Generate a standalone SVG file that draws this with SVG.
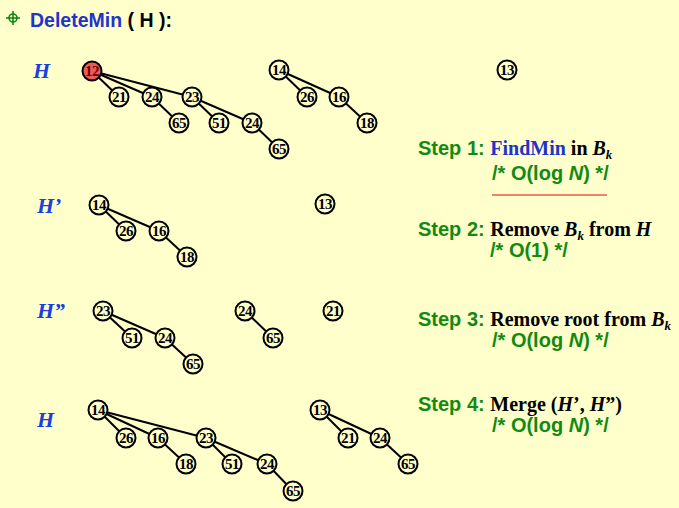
<svg xmlns="http://www.w3.org/2000/svg" width="679" height="508" viewBox="0 0 679 508">
<style>
.bg{fill:#FFFFCC}
.n circle{fill:#FFFFCC;stroke:#000;stroke-width:2}
.n text{font-family:"Liberation Serif",serif;font-weight:bold;font-size:15px;text-anchor:middle;fill:#000;letter-spacing:-0.5px}
.n.red circle{fill:#EE5A5A}
.n.red text{fill:#6A0000}
.e line{stroke:#000;stroke-width:2}
.lbl{font-family:"Liberation Serif",serif;font-weight:bold;font-style:italic;font-size:22px;fill:#1A3FE0}
.step{font-family:"Liberation Sans",Arial,sans-serif;font-weight:bold;font-size:20px;fill:#128A12}
.tm{font-family:"Liberation Serif",serif;font-weight:bold;font-size:20px;fill:#000}
.blue{fill:#2233CC}
.it{font-style:italic}
.sub{font-size:13px;font-style:italic}
</style>
<rect class="bg" x="0" y="0" width="679" height="508"/>
<g id="title">
<g stroke="#118811" stroke-width="1.6" fill="none">
<circle cx="13" cy="18" r="4"/>
<line x1="13" y1="11" x2="13" y2="25"/>
<line x1="6" y1="18" x2="20" y2="18"/>
</g>
<text x="30" y="27" font-family="Liberation Sans,Arial,sans-serif" font-weight="bold" font-size="19.5px"><tspan fill="#2233CC">DeleteMin</tspan><tspan fill="#000"> ( H ):</tspan></text>
</g>
<g id="labels">
<text class="lbl" x="33" y="78">H</text>
<text class="lbl" x="37" y="213">H’</text>
<text class="lbl" x="37" y="318">H”</text>
<text class="lbl" x="37" y="427">H</text>
</g>
<g id="connectors" class="e">
<line x1="92" y1="71" x2="119" y2="97"/>
<line x1="92" y1="71" x2="152" y2="97"/>
<line x1="92" y1="71" x2="192" y2="97"/>
<line x1="152" y1="97" x2="179" y2="123"/>
<line x1="192" y1="97" x2="219" y2="123"/>
<line x1="192" y1="97" x2="252" y2="123"/>
<line x1="252" y1="123" x2="279" y2="149"/>
<line x1="279" y1="70" x2="307" y2="97"/>
<line x1="279" y1="70" x2="339" y2="97"/>
<line x1="339" y1="97" x2="367" y2="123"/>
<line x1="99" y1="205" x2="126" y2="231"/>
<line x1="99" y1="205" x2="159" y2="231"/>
<line x1="159" y1="231" x2="187" y2="257"/>
<line x1="103" y1="311" x2="132" y2="338"/>
<line x1="103" y1="311" x2="165" y2="338"/>
<line x1="165" y1="338" x2="193" y2="364"/>
<line x1="245" y1="311" x2="273" y2="338"/>
<line x1="98" y1="410" x2="126" y2="438"/>
<line x1="98" y1="410" x2="158" y2="438"/>
<line x1="98" y1="410" x2="206" y2="438"/>
<line x1="158" y1="438" x2="186" y2="464"/>
<line x1="206" y1="438" x2="232" y2="464"/>
<line x1="206" y1="438" x2="267" y2="464"/>
<line x1="267" y1="464" x2="293" y2="491"/>
<line x1="320" y1="410" x2="348" y2="438"/>
<line x1="320" y1="410" x2="380" y2="438"/>
<line x1="380" y1="438" x2="408" y2="464"/>
</g>
<g id="n-h-12" class="n red"><circle cx="92" cy="71" r="9.5"/><text x="92" y="76">12</text></g>
<g id="n-h-21" class="n"><circle cx="119" cy="97" r="9.5"/><text x="119" y="102">21</text></g>
<g id="n-h-24a" class="n"><circle cx="152" cy="97" r="9.5"/><text x="152" y="102">24</text></g>
<g id="n-h-23" class="n"><circle cx="192" cy="97" r="9.5"/><text x="192" y="102">23</text></g>
<g id="n-h-65a" class="n"><circle cx="179" cy="123" r="9.5"/><text x="179" y="128">65</text></g>
<g id="n-h-51" class="n"><circle cx="219" cy="123" r="9.5"/><text x="219" y="128">51</text></g>
<g id="n-h-24b" class="n"><circle cx="252" cy="123" r="9.5"/><text x="252" y="128">24</text></g>
<g id="n-h-65b" class="n"><circle cx="279" cy="149" r="9.5"/><text x="279" y="154">65</text></g>
<g id="n-h-14" class="n"><circle cx="279" cy="70" r="9.5"/><text x="279" y="75">14</text></g>
<g id="n-h-26" class="n"><circle cx="307" cy="97" r="9.5"/><text x="307" y="102">26</text></g>
<g id="n-h-16" class="n"><circle cx="339" cy="97" r="9.5"/><text x="339" y="102">16</text></g>
<g id="n-h-18" class="n"><circle cx="367" cy="123" r="9.5"/><text x="367" y="128">18</text></g>
<g id="n-h-13" class="n"><circle cx="507" cy="70" r="9.5"/><text x="507" y="75">13</text></g>
<g id="n-h1-14" class="n"><circle cx="99" cy="205" r="9.5"/><text x="99" y="210">14</text></g>
<g id="n-h1-26" class="n"><circle cx="126" cy="231" r="9.5"/><text x="126" y="236">26</text></g>
<g id="n-h1-16" class="n"><circle cx="159" cy="231" r="9.5"/><text x="159" y="236">16</text></g>
<g id="n-h1-18" class="n"><circle cx="187" cy="257" r="9.5"/><text x="187" y="262">18</text></g>
<g id="n-h1-13" class="n"><circle cx="325" cy="204" r="9.5"/><text x="325" y="209">13</text></g>
<g id="n-h2-23" class="n"><circle cx="103" cy="311" r="9.5"/><text x="103" y="316">23</text></g>
<g id="n-h2-51" class="n"><circle cx="132" cy="338" r="9.5"/><text x="132" y="343">51</text></g>
<g id="n-h2-24a" class="n"><circle cx="165" cy="338" r="9.5"/><text x="165" y="343">24</text></g>
<g id="n-h2-65a" class="n"><circle cx="193" cy="364" r="9.5"/><text x="193" y="369">65</text></g>
<g id="n-h2-24b" class="n"><circle cx="245" cy="311" r="9.5"/><text x="245" y="316">24</text></g>
<g id="n-h2-65b" class="n"><circle cx="273" cy="338" r="9.5"/><text x="273" y="343">65</text></g>
<g id="n-h2-21" class="n"><circle cx="333" cy="311" r="9.5"/><text x="333" y="316">21</text></g>
<g id="n-f-14" class="n"><circle cx="98" cy="410" r="9.5"/><text x="98" y="415">14</text></g>
<g id="n-f-26" class="n"><circle cx="126" cy="438" r="9.5"/><text x="126" y="443">26</text></g>
<g id="n-f-16" class="n"><circle cx="158" cy="438" r="9.5"/><text x="158" y="443">16</text></g>
<g id="n-f-23" class="n"><circle cx="206" cy="438" r="9.5"/><text x="206" y="443">23</text></g>
<g id="n-f-18" class="n"><circle cx="186" cy="464" r="9.5"/><text x="186" y="469">18</text></g>
<g id="n-f-51" class="n"><circle cx="232" cy="464" r="9.5"/><text x="232" y="469">51</text></g>
<g id="n-f-24a" class="n"><circle cx="267" cy="464" r="9.5"/><text x="267" y="469">24</text></g>
<g id="n-f-65a" class="n"><circle cx="293" cy="491" r="9.5"/><text x="293" y="496">65</text></g>
<g id="n-f-13" class="n"><circle cx="320" cy="410" r="9.5"/><text x="320" y="415">13</text></g>
<g id="n-f-21" class="n"><circle cx="348" cy="438" r="9.5"/><text x="348" y="443">21</text></g>
<g id="n-f-24b" class="n"><circle cx="380" cy="438" r="9.5"/><text x="380" y="443">24</text></g>
<g id="n-f-65b" class="n"><circle cx="408" cy="464" r="9.5"/><text x="408" y="469">65</text></g>
<g id="steps">
<text x="418" y="155"><tspan class="step">Step 1: </tspan><tspan class="tm blue">FindMin</tspan><tspan class="tm"> in </tspan><tspan class="tm it">B</tspan><tspan class="tm sub" dy="4">k</tspan></text>
<text class="step" x="492" y="180">/* O(log <tspan font-style="italic">N</tspan>) */</text>
<line x1="492" y1="195" x2="607" y2="195" stroke="#EE5A4A" stroke-width="1.5"/>
<text x="418" y="236"><tspan class="step">Step 2: </tspan><tspan class="tm">Remove </tspan><tspan class="tm it">B</tspan><tspan class="tm sub" dy="4">k</tspan><tspan class="tm" dy="-4"> from </tspan><tspan class="tm it">H</tspan></text>
<text class="step" x="490" y="257">/* O(1) */</text>
<text x="418" y="326"><tspan class="step">Step 3: </tspan><tspan class="tm">Remove root from </tspan><tspan class="tm it">B</tspan><tspan class="tm sub" dy="4">k</tspan></text>
<text class="step" x="492" y="347">/* O(log <tspan font-style="italic">N</tspan>) */</text>
<text x="418" y="411"><tspan class="step">Step 4: </tspan><tspan class="tm">Merge (</tspan><tspan class="tm it">H</tspan><tspan class="tm">’, </tspan><tspan class="tm it">H</tspan><tspan class="tm">”)</tspan></text>
<text class="step" x="492" y="432">/* O(log <tspan font-style="italic">N</tspan>) */</text>
</g>
</svg>
